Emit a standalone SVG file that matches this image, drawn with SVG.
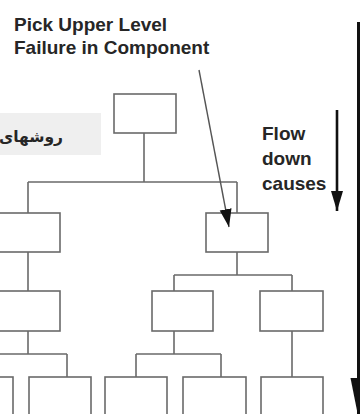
<svg xmlns="http://www.w3.org/2000/svg" width="360" height="414" viewBox="0 0 360 414">
<style>
.box{fill:#fff;stroke:#6a6a6a;stroke-width:1.6}
.ln{fill:none;stroke:#6a6a6a;stroke-width:1.6}
.t{font-family:"Liberation Sans",Arial,sans-serif;font-weight:bold;font-size:19px;fill:#262626}
.fa{font-family:"DejaVu Sans","Noto Sans",sans-serif;font-weight:bold;font-size:15.5px;fill:#262626}
</style>
<defs>
<marker id="ah" markerUnits="userSpaceOnUse" markerWidth="20" markerHeight="14" refX="18" refY="6" orient="auto">
<path d="M0,0 L18,6 L0,12 Z" fill="#111"/>
</marker>
<marker id="ahs" markerUnits="userSpaceOnUse" markerWidth="22" markerHeight="14" refX="20" refY="6" orient="auto">
<path d="M0,0 L20,6 L0,12 Z" fill="#111"/>
</marker>
<marker id="ahb" markerUnits="userSpaceOnUse" markerWidth="44" markerHeight="18" refX="40" refY="8" orient="auto">
<path d="M0,0 L40,8 L0,16 Z" fill="#111"/>
</marker>
</defs>

<g id="label-top">
<text class="t" x="14" y="31">Pick Upper Level</text>
<text class="t" x="14" y="54">Failure in Component</text>
</g>

<g id="label-fa">
<rect x="-2" y="113" width="103" height="42" fill="#efefef"/>
<text class="fa" x="63" y="142" text-anchor="end">روشهای</text>
</g>

<g id="label-flow">
<text class="t" x="262" y="140">Flow</text>
<text class="t" x="262" y="165">down</text>
<text class="t" x="262" y="190">causes</text>
</g>

<g id="n-top"><rect class="box" x="114" y="94" width="62" height="39"/></g>
<g id="n-l2a"><rect class="box" x="-3" y="213" width="63" height="39"/></g>
<g id="n-l2b"><rect class="box" x="206" y="213" width="62" height="39"/></g>
<g id="n-l3a"><rect class="box" x="-3" y="291" width="63" height="40"/></g>
<g id="n-l3b"><rect class="box" x="152" y="291" width="61" height="40"/></g>
<g id="n-l3c"><rect class="box" x="260" y="291" width="63" height="40"/></g>
<g id="n-l4a"><rect class="box" x="-50" y="377" width="63" height="45"/></g>
<g id="n-l4b"><rect class="box" x="29" y="377" width="62" height="45"/></g>
<g id="n-l4c"><rect class="box" x="105" y="377" width="62" height="45"/></g>
<g id="n-l4d"><rect class="box" x="183" y="377" width="63" height="45"/></g>
<g id="n-l4e"><rect class="box" x="261" y="377" width="62" height="45"/></g>

<g id="connectors">
<path class="ln" d="M144,133 V182 M28,182 H237 M28,182 V213 M237,182 V213"/>
<path class="ln" d="M28,252 V291 M237,252 V275 M174,275 H292 M174,275 V291 M292,275 V291"/>
<path class="ln" d="M28,331 V354 M-5,354 H67 M67,354 V377 M174,331 V354 M136,354 H221 M136,354 V377 M221,354 V377 M292,331 V377"/>
<line x1="199" y1="70" x2="229" y2="227" stroke="#555" stroke-width="1.4" marker-end="url(#ah)"/>
<line x1="337" y1="110" x2="337" y2="211" stroke="#111" stroke-width="2.6" marker-end="url(#ahs)"/>
<line x1="358.5" y1="22" x2="358.5" y2="418" stroke="#111" stroke-width="3" marker-end="url(#ahb)"/>
</g>
</svg>
